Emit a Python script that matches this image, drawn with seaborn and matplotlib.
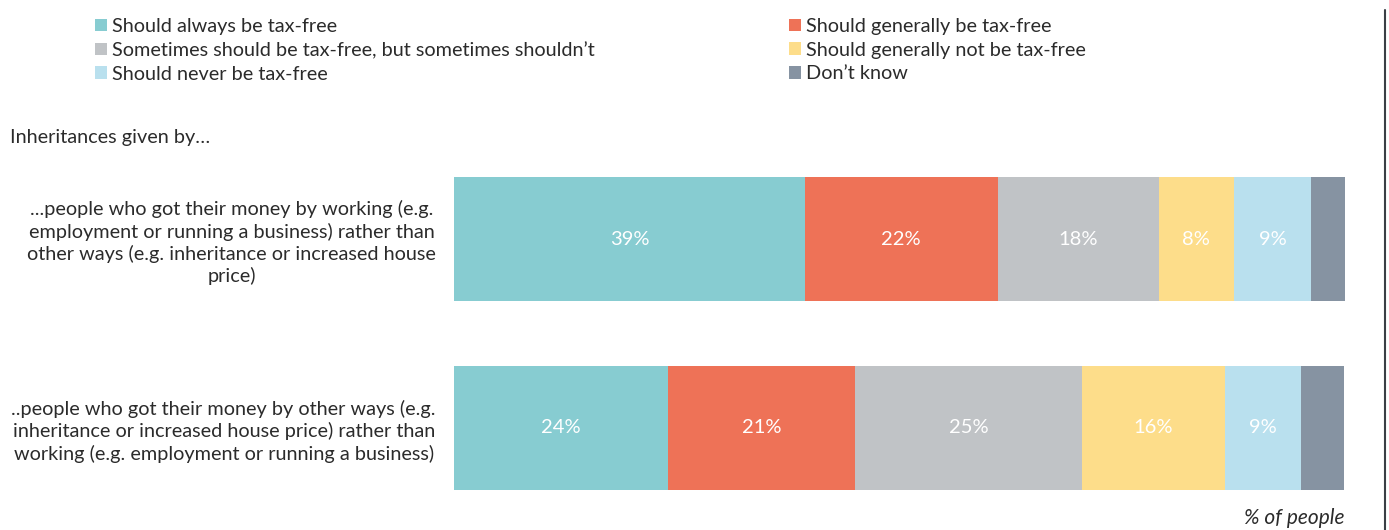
import matplotlib
matplotlib.use("Agg")
import matplotlib.pyplot as plt
import seaborn as sns
import pandas as pd
import numpy as np
from matplotlib.lines import Line2D

categories = [
    "...people who got their money by working (e.g.\nemployment or running a business) rather than\nother ways (e.g. inheritance or increased house\nprice)",
    "..people who got their money by other ways (e.g.\ninheritance or increased house price) rather than\nworking (e.g. employment or running a business)",
]
responses = [
    "Should always be tax-free",
    "Should generally be tax-free",
    "Sometimes should be tax-free, but sometimes shouldn\u2019t",
    "Should generally not be tax-free",
    "Should never be tax-free",
    "Don\u2019t know",
]
always = [39.4, 24.0]
generally = [21.6, 21.0]
sometimes = [18.1, 25.5]
generally_not = [8.4, 16.0]
never = [8.7, 8.6]
dont_know = [3.8, 4.8]
labels_always = ["39%", "24%"]
labels_generally = ["22%", "21%"]
labels_sometimes = ["18%", "25%"]
labels_generally_not = ["8%", "16%"]
labels_never = ["9%", "9%"]
labels_dont_know = ["", ""]

colors = ["#87CCD1", "#EE7257", "#C0C3C6", "#FDDD8A", "#B9E0EE", "#8693A2"]

series = [always, generally, sometimes, generally_not, never, dont_know]
seg_labels = [labels_always, labels_generally, labels_sometimes,
              labels_generally_not, labels_never, labels_dont_know]

sns.set_theme(style="white")
plt.rcParams["font.family"] = ["Lato", "DejaVu Sans"]
TXT = "#2b2b2b"
FS = 14.3

W, H = 1389, 530
fig = plt.figure(figsize=(W / 100, H / 100), dpi=100)
ax = fig.add_axes([454 / W, 1 - 490 / H, (1345 - 454) / W, (490 - 177) / H])

df = pd.DataFrame({"category": categories})
cum = np.zeros(len(categories))
for name, vals, col, labs in zip(responses, series, colors, seg_labels):
    d = df.copy()
    d["value"] = vals
    sns.barplot(data=d, x="value", y="category", orient="h", color=col,
                saturation=1, width=0.66, left=cum, label=name, ax=ax, linewidth=0)
    for i, (v, lab) in enumerate(zip(vals, labs)):
        if lab:
            ax.text(cum[i] + v / 2, i, lab, ha="center", va="center",
                    color="white", fontsize=14.5)
    cum = cum + np.array(vals)

handles, labs = ax.get_legend_handles_labels()
if ax.get_legend() is not None:
    ax.get_legend().remove()

ax.set_xlim(0, 100)
ax.set_ylim(1.33, -0.33)
ax.set_xlabel("")
ax.set_ylabel("")
ax.set_xticks([])
sns.despine(ax=ax, left=True, bottom=True)
ax.tick_params(axis="y", length=0, pad=13)
for t in ax.get_yticklabels():
    t.set_multialignment("center")
    t.set_fontsize(FS)
    t.set_color(TXT)
    t.set_linespacing(1.28)

common = dict(loc="upper left", frameon=False, fontsize=FS, handlelength=0.62,
              handleheight=0.62, handletextpad=0.25, labelspacing=0.33,
              borderaxespad=0, borderpad=0, labelcolor=TXT)
fig.legend([handles[0], handles[2], handles[4]], [labs[0], labs[2], labs[4]],
           bbox_to_anchor=(95 / W, 1 - 18 / H), **common)
fig.legend([handles[1], handles[3], handles[5]], [labs[1], labs[3], labs[5]],
           bbox_to_anchor=(789 / W, 1 - 18 / H), **common)

fig.text(10 / W, 1 - 138 / H, "Inheritances given by\u2026", ha="left", va="center",
         fontsize=FS, color=TXT)
fig.text(1345 / W, 1 - 518 / H, "% of people", ha="right", va="center",
         fontsize=15, style="italic", color=TXT)

fig.add_artist(Line2D([1385 / W, 1385 / W], [0, 1 - 10 / H], transform=fig.transFigure,
                      color="#3a3f45", linewidth=1.5))

fig.savefig("out.png", dpi=100, facecolor="white")
